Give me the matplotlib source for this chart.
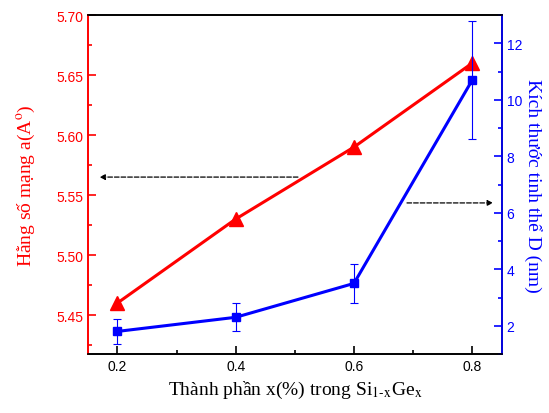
import matplotlib.pyplot as plt
from matplotlib.ticker import MultipleLocator, FormatStrFormatter

x = [0.2, 0.4, 0.6, 0.8]
lattice = [5.46, 5.53, 5.59, 5.66]
size_D = [1.8, 2.3, 3.5, 10.7]
size_err = [0.45, 0.5, 0.7, 2.1]

plt.rcParams['font.family'] = 'Liberation Sans'
plt.rcParams['mathtext.fontset'] = 'stix'

fig = plt.figure(figsize=(5.49, 4.14), dpi=100)
ax = fig.add_axes([0.160, 0.1425, 0.754, 0.8185])
ax2 = ax.twinx()

ax.plot(x, lattice, '-^', color='red', lw=2.2, ms=10, zorder=3)
ax2.errorbar(x, size_D, yerr=size_err, fmt='-s', color='blue', lw=2.2, ms=6,
             elinewidth=0.8, capsize=3, capthick=0.8)

ax.set_xlim(0.15, 0.85)
ax.set_ylim(5.4175, 5.70)
ax2.set_ylim(1, 13)

ax.xaxis.set_major_locator(MultipleLocator(0.2))
ax.xaxis.set_minor_locator(MultipleLocator(0.1))
ax.xaxis.set_major_formatter(FormatStrFormatter('%.1f'))
ax.yaxis.set_major_locator(MultipleLocator(0.05))
ax.yaxis.set_minor_locator(MultipleLocator(0.025))
ax2.yaxis.set_major_locator(MultipleLocator(2))
ax2.yaxis.set_minor_locator(MultipleLocator(1))

ax.tick_params(axis='x', which='both', direction='in', width=1.2, labelsize=10)
ax.tick_params(axis='x', which='major', length=6)
ax.tick_params(axis='x', which='minor', length=3)
ax.tick_params(axis='y', which='both', direction='in', width=1.2, labelsize=10,
               color='red', labelcolor='red')
ax.tick_params(axis='y', which='major', length=6)
ax.tick_params(axis='y', which='minor', length=3)
ax2.tick_params(axis='y', which='both', direction='in', width=1.2, labelsize=10,
                color='blue', labelcolor='blue')
ax2.tick_params(axis='y', which='major', length=6)
ax2.tick_params(axis='y', which='minor', length=3)

for sp in list(ax.spines.values()) + list(ax2.spines.values()):
    sp.set_linewidth(1.2)
ax.spines['left'].set_color('red')
ax2.spines['left'].set_color('red')
ax2.spines['right'].set_color('blue')

serif = 'Liberation Serif'
ax.set_ylabel('Hằng số mạng a(A$^{\\mathrm{o}}$)', color='red', fontsize=14, family=serif, labelpad=14)
ax2.set_ylabel('Kích thước tinh thể D (nm)', color='blue', fontsize=14, family=serif,
               rotation=-90, labelpad=14)
ax.set_xlabel('Thành phần x(%) trong Si$_{\\mathrm{1\\text{-}x}}$Ge$_{\\mathrm{x}}$', fontsize=14,
              family=serif, labelpad=4)

ax.annotate('', xy=(0.165, 5.565), xytext=(0.51, 5.565),
            arrowprops=dict(arrowstyle='-|>', ls='--', color='black', lw=0.9, mutation_scale=8))
ax2.annotate('', xy=(0.84, 6.35), xytext=(0.685, 6.35),
             arrowprops=dict(arrowstyle='-|>', ls='--', color='black', lw=0.9, mutation_scale=8))

fig.savefig('out.png', dpi=100)
